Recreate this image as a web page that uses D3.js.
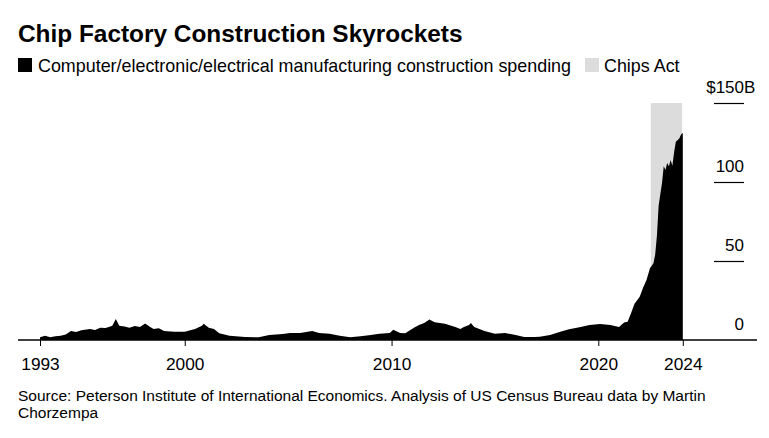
<!DOCTYPE html>
<html><head><meta charset="utf-8">
<script src="https://cdn.jsdelivr.net/npm/d3@7"></script>
<style>
html,body{margin:0;padding:0;background:#fff;}
svg text{font-family:"Liberation Sans",Arial,Helvetica,sans-serif;fill:#000;}
</style></head>
<body>
<svg id="chart" width="769" height="438"></svg>
<script>
const title = "Chip Factory Construction Skyrockets";
const seriesName = "Computer/electronic/electrical manufacturing construction spending";
const shadeName = "Chips Act";
const sourceLines = ["Source: Peterson Institute of International Economics. Analysis of US Census Bureau data by Martin","Chorzempa"];

const months = ["1993-01","1993-04","1993-07","1993-10","1994-01","1994-04","1994-07","1994-10","1995-01","1995-06","1995-09","1995-12","1996-03","1996-05","1996-07","1996-09","1996-11","1997-02","1997-05","1997-08","1997-11","1998-02","1998-05","1998-07","1998-10","1999-01","1999-07","2000-01","2000-07","2000-11","2000-12","2001-03","2001-06","2001-09","2002-03","2002-12","2003-08","2004-02","2004-08","2004-11","2005-02","2005-08","2006-03","2006-07","2007-01","2007-07","2008-01","2008-07","2009-01","2009-06","2009-12","2010-02","2010-06","2010-09","2010-11","2011-02","2011-05","2011-08","2011-11","2012-02","2012-08","2013-02","2013-05","2013-07","2013-10","2013-11","2014-01","2014-07","2015-01","2015-07","2016-01","2016-06","2016-12","2017-03","2017-09","2018-03","2018-08","2019-02","2019-08","2020-02","2020-08","2021-01","2021-04","2021-06","2021-08","2021-10","2022-01","2022-03","2022-05","2022-07","2022-09","2022-10","2022-11","2022-12","2023-02","2023-03","2023-04","2023-05","2023-06","2023-07","2023-08","2023-09","2023-10","2023-12","2024-01","2024-02"];
const spending = [1.7,2.7,1.8,2.4,2.7,3.5,5.7,5.0,6.2,7.0,6.3,7.8,7.6,8.2,9.0,13.3,9.0,8.6,7.8,8.8,8.2,10.5,8.2,7.0,7.4,5.7,5.3,5.3,7.0,9.0,10.3,7.8,7.0,4.2,2.7,1.9,1.7,3.2,3.6,4.0,4.4,4.4,5.7,4.4,3.9,2.7,1.7,2.3,3.2,4.0,4.4,6.5,4.4,4.2,5.7,7.8,9.5,10.8,12.9,11.2,10.3,8.2,7.0,8.2,9.5,10.8,8.2,5.7,4.0,4.4,3.2,1.9,1.9,2.1,3.2,5.3,6.8,8.0,9.5,10.1,9.5,8.2,11.0,11.6,17,23,27.4,33,38,45.4,48.5,54,66,85,100,110,107.6,112,110,114,110.3,119,125.5,127.6,130,131];

const chipsActPeriod = ["2022-07-15","2024-01-20"];
const xTickDates = ["1993-01-01","2000-01-01","2010-01-01","2020-01-01","2024-02-01"];
const xTickLabels = ["1993","2000","2010","2020","2024"];
const yTicks = [0,50,100,150];
const yTickLabels = ["0","50","100","150"];
const yPrefix = "$", ySuffix = "B";

const parseM = d3.timeParse("%Y-%m");
const parseD = d3.timeParse("%Y-%m-%d");
const data = months.map((m,i)=>({date:parseM(m), value:spending[i]}));

const svg = d3.select("#chart");
const x = d3.scaleTime().domain([parseD("1993-01-01"), parseD("2024-02-01")]).range([40, 682.8]);
const y = d3.scaleLinear().domain([0,150]).range([340, 103]);

// title
svg.append("text").attr("x",18).attr("y",42).attr("font-size",24.4).attr("font-weight","bold").text(title);

// legend
svg.append("rect").attr("x",18).attr("y",58).attr("width",14).attr("height",14).attr("fill","#000");
svg.append("text").attr("x",38).attr("y",71.5).attr("font-size",17.9).text(seriesName);
svg.append("rect").attr("x",585).attr("y",58).attr("width",14).attr("height",14).attr("fill","#dcdcdc");
svg.append("text").attr("x",604).attr("y",71.5).attr("font-size",17.9).text(shadeName);

// chips act shading
svg.append("rect")
  .attr("x", x(parseD(chipsActPeriod[0])))
  .attr("y", y(150))
  .attr("width", x(parseD(chipsActPeriod[1])) - x(parseD(chipsActPeriod[0])))
  .attr("height", y(0) - y(150))
  .attr("fill","#dcdcdc");

// area
const area = d3.area().x(d=>x(d.date)).y0(y(0)).y1(d=>y(d.value)).curve(d3.curveLinear);
svg.append("path").datum(data).attr("d",area).attr("fill","#000");

// y axis (right side gridlines + labels)
const yAxis = d3.axisRight(y).tickValues(yTicks).tickSize(30).tickFormat((d,i)=>yTickLabels[i]);
const gy = svg.append("g").attr("transform","translate(714,0)").call(yAxis);
gy.select(".domain").remove();
gy.selectAll(".tick").filter(d=>d===0).select("line").remove();
gy.selectAll(".tick line").attr("stroke","#000").attr("stroke-width",1.2);
gy.selectAll(".tick text").attr("x",30).attr("dy",-11).attr("text-anchor","end")
  .attr("font-size",17).attr("font-family","Liberation Sans, Arial, sans-serif").attr("fill","#000");
// top label: prefix and suffix hang outside the number alignment
gy.selectAll(".tick").filter(d=>d===150).select("text").each(function(){
  const t = d3.select(this);
  const numW = this.getComputedTextLength();
  t.text(null).attr("text-anchor","start").attr("x", 30 - numW);
  t.append("tspan").text(yPrefix);
  const preW = this.getComputedTextLength();
  t.attr("x", 30 - numW - preW);
  t.append("tspan").text(yTickLabels[yTicks.indexOf(150)]);
  t.append("tspan").text(ySuffix);
});

// x axis
const xAxis = d3.axisBottom(x).tickValues(xTickDates.map(parseD)).tickSize(6).tickSizeOuter(0)
  .tickFormat((d,i)=>xTickLabels[i]);
const gx = svg.append("g").attr("transform","translate(0,340)").call(xAxis);
gx.select(".domain").remove();
gx.selectAll(".tick line").attr("stroke","#000").attr("stroke-width",1);
gx.selectAll(".tick text").attr("y",18).attr("dy","0.71em").attr("font-size",17.3)
  .attr("font-family","Liberation Sans, Arial, sans-serif").attr("fill","#000");
svg.append("line").attr("x1",18).attr("x2",757).attr("y1",340).attr("y2",340).attr("stroke","#000").attr("stroke-width",1.5);

// source
svg.selectAll("text.src").data(sourceLines).enter().append("text").attr("class","src")
  .attr("x",18).attr("y",(d,i)=>401+i*17).attr("font-size",15.5).text(d=>d);
</script>
</body></html>
